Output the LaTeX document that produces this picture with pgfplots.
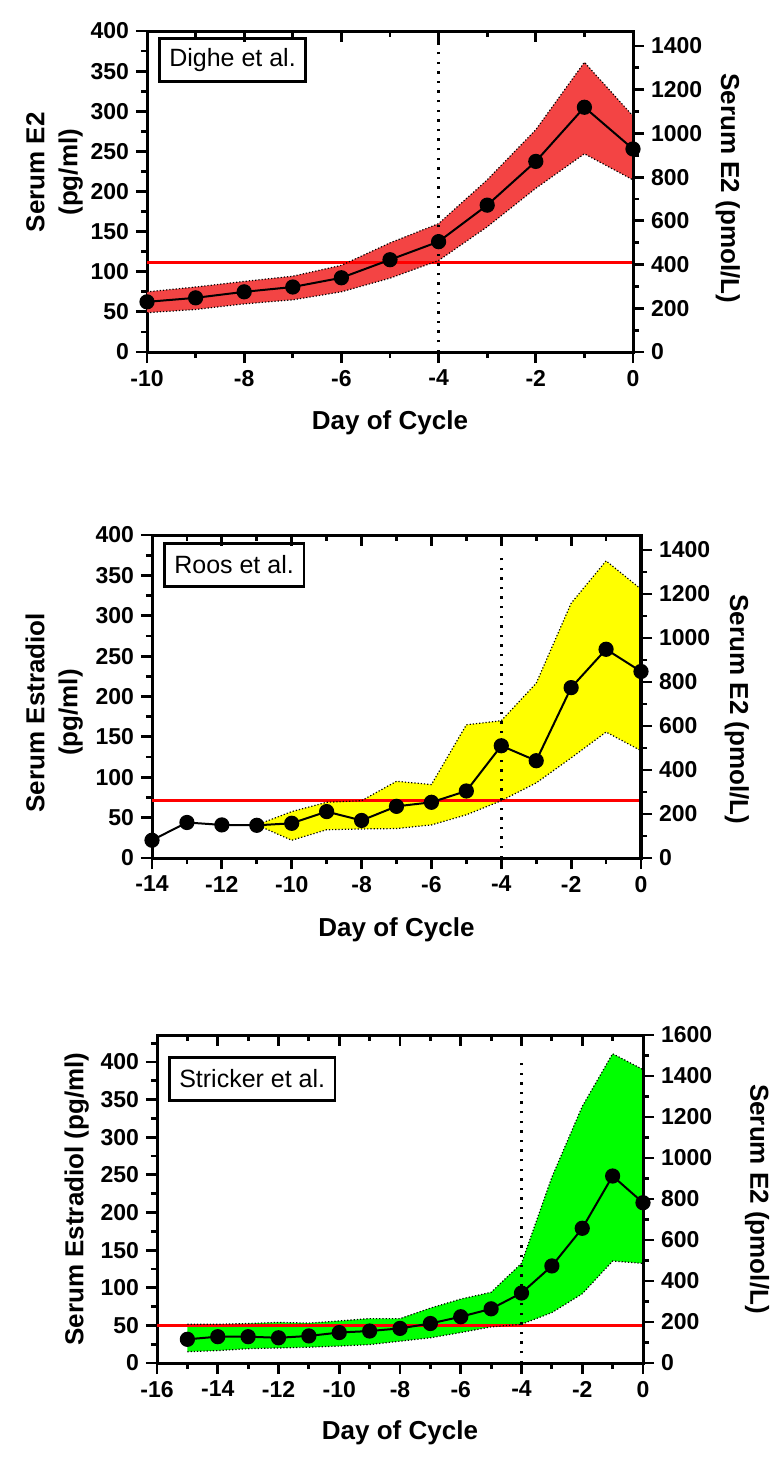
\documentclass[border=0pt]{standalone}
\usepackage{fontspec}
\setmainfont{Liberation Sans}
\usepackage{pgfplots}
\pgfplotsset{compat=1.18}
\usepackage{pgfplotstable}
\usepgfplotslibrary{fillbetween}

\definecolor{dred}{RGB}{243,68,68}
\definecolor{dyel}{RGB}{255,255,0}
\definecolor{dgrn}{RGB}{0,255,0}
\definecolor{refred}{RGB}{255,0,0}

\newcommand{\tfont}{\bfseries\fontsize{11.5}{13}\selectfont}
\newcommand{\lfont}{\bfseries\fontsize{13}{16.5}\selectfont}
\newcommand{\bfont}{\fontsize{12.5}{14}\selectfont}

\pgfplotstableread{
day mean lo hi
-10 62.5 49 75
-9 67.5 53 81
-8 75 60 88
-7 81 65 94.5
-6 92.5 75 108
-5 115 92 136
-4 137.5 114 160
-3 183 156 214.5
-2 237.5 204 277
-1 305 247 361
0 253 214.5 294
}\dighe

\pgfplotstableread{
day mean
-14 22
-13 44
-12 41
-11 40.5
-10 43
-9 57.5
-8 46.5
-7 64
-6 69
-5 83
-4 139
-3 120.5
-2 211
-1 258.5
0 231
}\roosmean

\pgfplotstableread{
day lo hi
-11 41 41
-10 22 57.5
-9 35 69
-8 36 71
-7 36.5 95
-6 41 91
-5 53.5 165
-4 71 170
-3 93 216.5
-2 124 315.5
-1 156 368
0 133 333
}\roosband

\pgfplotstableread{
day mean lo hi
-15 31.5 15 51.5
-14 35 16.5 51.5
-13 35 19 52.5
-12 33.5 20 54
-11 36 21 53
-10 40.5 22.5 56
-9 42.5 24.5 59
-8 46 29 59
-7 52.5 33.5 73
-6 61.5 40.5 85
-5 72 48 94
-4 93 51.5 132.5
-3 129 67 247
-2 179 92 341
-1 248.5 135.5 411
0 213 132.5 390
}\stricker

\pgfplotsset{
  common/.style={scale only axis, anchor=south west, clip=false,
    axis line style={line width=1.5pt, black},
    tick style={line width=1.4pt, black},
    major tick length=5.5pt, minor tick length=3pt,
    tick label style={font=\tfont},
    /pgf/number format/assume math mode=true,
    /pgf/number format/1000 sep={},
    label style={font=\lfont},
  },
  leftax/.style={common, xtick pos=lower, ytick pos=left, tick align=outside,
    ymin=0, xtick distance=2, minor x tick num=1, ytick distance=50, minor y tick num=1,
    xlabel={Day of Cycle}},
  rightax/.style={common, axis x line*=bottom, axis y line*=right, tick align=outside,
    xtick=\empty, x axis line style={draw=none},
    ymin=0, ytick distance=200, minor y tick num=1},
  topax/.style={common, axis x line*=top, axis y line*=left, tick align=inside,
    ytick=\empty, y axis line style={draw=none},
    xtick distance=2, minor x tick num=1, xticklabels={},
    xticklabel style={text opacity=0, opacity=0}, ymin=0, ymax=1},
  bandedge/.style={black, densely dotted, line width=0.6pt},
  vdot/.style={black, line width=1.3pt, dash pattern=on 1.2pt off 3.6pt},
  meanline/.style={black, line width=1pt, mark=*, mark size=3.3pt, mark options={solid, fill=black}},
  refline/.style={refred, line width=1.4pt},
}

\begin{document}
\begin{tikzpicture}

% ---------------- Panel 1: Dighe ----------------
\begin{axis}[leftax, at={(73.5pt,-176pt)}, width=243pt, height=160.5pt,
  xmin=-10, xmax=0, ymax=400,
  ylabel={Serum E2\\(pg/ml)},
  ylabel style={at={(axis description cs:-0.19,0.56)}, anchor=center, align=center},
  xlabel style={at={(axis description cs:0.5,-0.22)}, anchor=center}]
\addplot[refline] coordinates {(-10,112) (0,112)};
\addplot[draw=none, name path=hi1, forget plot] table[x=day,y=hi]{\dighe};
\addplot[draw=none, name path=lo1, forget plot] table[x=day,y=lo]{\dighe};
\addplot[fill=dred, draw=none] fill between[of=hi1 and lo1];
\addplot[bandedge] table[x=day,y=hi]{\dighe};
\addplot[bandedge] table[x=day,y=lo]{\dighe};
\addplot[vdot] coordinates {(-4,0) (-4,400)};
\addplot[meanline] table[x=day,y=mean]{\dighe};
\node[draw, line width=1.3pt, anchor=north west, font=\bfont, inner xsep=5pt, minimum height=21.5pt]
  at (rel axis cs:0.0226,0.981) {Dighe et al.};
\end{axis}
\begin{axis}[rightax, at={(73.5pt,-176pt)}, width=243pt, height=160.5pt,
  xmin=-10, xmax=0, ymax=1468.4,
  ylabel={Serum E2 (pmol/L)},
  ylabel style={rotate=180, at={(axis description cs:1.195,0.51)}, anchor=center}]
\addplot[draw=none, forget plot] coordinates {(-10,0) (0,1468.4)};
\end{axis}
\begin{axis}[topax, at={(73.5pt,-176pt)}, width=243pt, height=160.5pt,
  xmin=-10, xmax=0]
\addplot[draw=none, forget plot] coordinates {(-10,0) (0,1)};
\end{axis}

% ---------------- Panel 2: Roos ----------------
\begin{axis}[leftax, at={(76pt,-429pt)}, width=244.5pt, height=161.5pt,
  xmin=-14, xmax=0, ymax=400,
  ylabel={Serum Estradiol\\(pg/ml)},
  ylabel style={at={(axis description cs:-0.2,0.45)}, anchor=center, align=center},
  xlabel style={at={(axis description cs:0.5,-0.223)}, anchor=center}]
\addplot[refline] coordinates {(-14,71) (0,71)};
\addplot[draw=none, name path=hi2, forget plot] table[x=day,y=hi]{\roosband};
\addplot[draw=none, name path=lo2, forget plot] table[x=day,y=lo]{\roosband};
\addplot[fill=dyel, draw=none] fill between[of=hi2 and lo2];
\addplot[bandedge] table[x=day,y=hi]{\roosband};
\addplot[bandedge] table[x=day,y=lo]{\roosband};
\addplot[vdot] coordinates {(-4,0) (-4,380)};
\addplot[meanline] table[x=day,y=mean]{\roosmean};
\node[draw, line width=1.3pt, anchor=north west, font=\bfont, inner xsep=5pt, minimum height=21.5pt]
  at (rel axis cs:0.0225,0.978) {Roos et al.};
\end{axis}
\begin{axis}[rightax, at={(76pt,-429pt)}, width=244.5pt, height=161.5pt,
  xmin=-14, xmax=0, ymax=1468.4,
  ylabel={Serum E2 (pmol/L)},
  ylabel style={rotate=180, at={(axis description cs:1.196,0.46)}, anchor=center}]
\addplot[draw=none, forget plot] coordinates {(-14,0) (0,1468.4)};
\end{axis}
\begin{axis}[topax, at={(76pt,-429pt)}, width=244.5pt, height=161.5pt,
  xmin=-14, xmax=0]
\addplot[draw=none, forget plot] coordinates {(-14,0) (0,1)};
\end{axis}

% ---------------- Panel 3: Stricker ----------------
\begin{axis}[leftax, at={(78.5pt,-681.5pt)}, width=243pt, height=164pt,
  xmin=-16, xmax=0, ymax=435.85,
  ylabel={Serum Estradiol (pg/ml)},
  ylabel style={at={(axis description cs:-0.165,0.5)}, anchor=center},
  xlabel style={at={(axis description cs:0.5,-0.213)}, anchor=center}]
\addplot[refline] coordinates {(-16,50) (0,50)};
\addplot[draw=none, name path=hi3, forget plot] table[x=day,y=hi]{\stricker};
\addplot[draw=none, name path=lo3, forget plot] table[x=day,y=lo]{\stricker};
\addplot[fill=dgrn, draw=none] fill between[of=hi3 and lo3];
\addplot[bandedge] table[x=day,y=hi]{\stricker};
\addplot[bandedge] table[x=day,y=lo]{\stricker};
\addplot[vdot] coordinates {(-4,0) (-4,400)};
\addplot[meanline] table[x=day,y=mean]{\stricker};
\node[draw, line width=1.3pt, anchor=north west, font=\bfont, inner xsep=5pt, minimum height=21.5pt]
  at (rel axis cs:0.0226,0.936) {Stricker et al.};
\end{axis}
\begin{axis}[rightax, at={(78.5pt,-681.5pt)}, width=243pt, height=164pt,
  xmin=-16, xmax=0, ymax=1600,
  ylabel={Serum E2 (pmol/L)},
  ylabel style={rotate=180, at={(axis description cs:1.235,0.5)}, anchor=center}]
\addplot[draw=none, forget plot] coordinates {(-16,0) (0,1600)};
\end{axis}
\begin{axis}[topax, at={(78.5pt,-681.5pt)}, width=243pt, height=164pt,
  xmin=-16, xmax=0]
\addplot[draw=none, forget plot] coordinates {(-16,0) (0,1)};
\end{axis}

\pgfresetboundingbox
\useasboundingbox (0,0) rectangle (390pt,-732pt);
\end{tikzpicture}
\end{document}
